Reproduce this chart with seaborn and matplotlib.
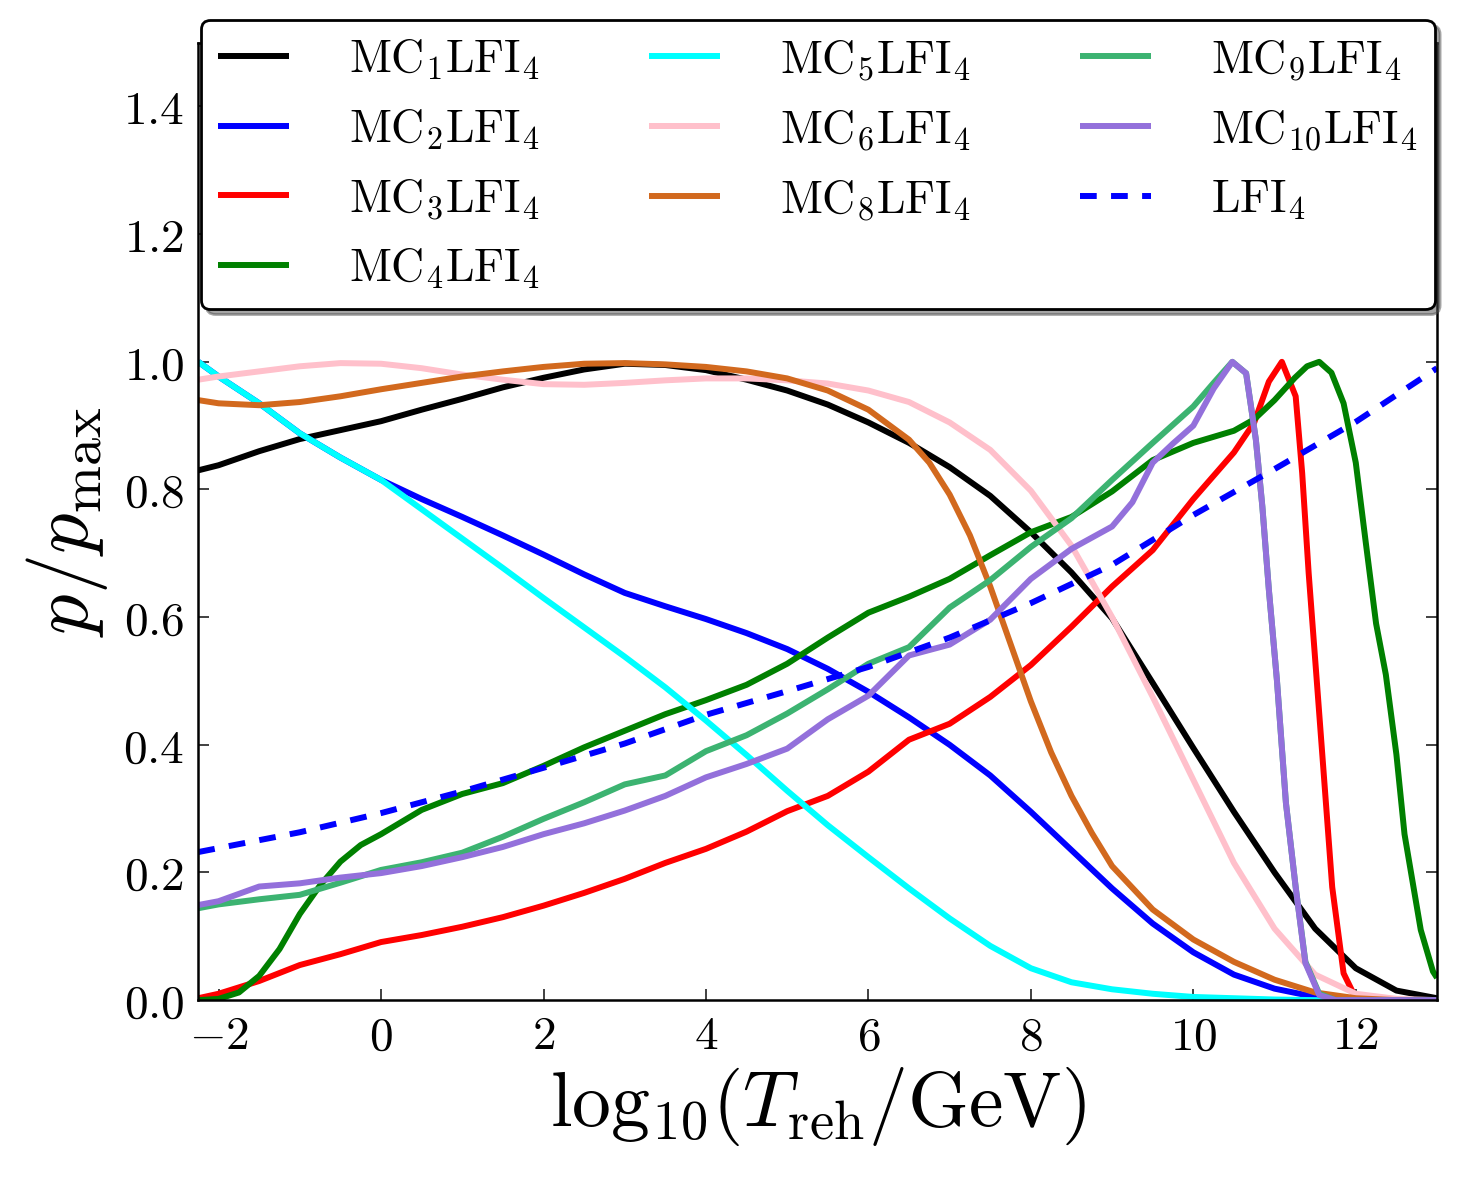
import matplotlib
matplotlib.use('Agg')
import matplotlib.pyplot as plt
from matplotlib.ticker import FuncFormatter
import seaborn as sns

# values
x_grid = [-2.25, -2, -1.5, -1, -0.5, 0, 0.5, 1, 1.5, 2, 2.5, 3, 3.5, 4, 4.5, 5,
          5.5, 6, 6.5, 7, 7.5, 8, 8.5, 9, 9.5, 10, 10.5, 11, 11.5, 12, 12.5, 13]

mc1 = [0.83, 0.838, 0.86, 0.879, 0.893, 0.907, 0.925, 0.942, 0.96, 0.975, 0.988, 0.997,
       0.995, 0.987, 0.972, 0.955, 0.933, 0.905, 0.873, 0.835, 0.79, 0.733, 0.67, 0.598,
       0.497, 0.395, 0.295, 0.2, 0.112, 0.05, 0.015, 0.003]

mc2 = [1.0, 0.977, 0.935, 0.888, 0.85, 0.815, 0.785, 0.757, 0.728, 0.698, 0.667, 0.638,
       0.617, 0.597, 0.575, 0.55, 0.519, 0.483, 0.443, 0.4, 0.352, 0.295, 0.235, 0.175,
       0.12, 0.075, 0.04, 0.018, 0.005, 0.001, 0.0, 0.0]

mc5 = [1.0, 0.977, 0.935, 0.888, 0.85, 0.815, 0.769, 0.723, 0.677, 0.63, 0.584, 0.538,
       0.49, 0.438, 0.384, 0.328, 0.274, 0.224, 0.175, 0.128, 0.085, 0.05, 0.028, 0.017,
       0.01, 0.005, 0.003, 0.001, 0.0, 0.0, 0.0, 0.0]

mc6 = [0.972, 0.977, 0.985, 0.993, 0.998, 0.997, 0.99, 0.98, 0.972, 0.965, 0.964, 0.967,
       0.971, 0.974, 0.974, 0.971, 0.966, 0.955, 0.937, 0.905, 0.862, 0.798, 0.712, 0.6,
       0.475, 0.345, 0.215, 0.112, 0.04, 0.01, 0.002, 0.0]

x_mc8 = [-2.25, -2, -1.5, -1, -0.5, 0, 0.5, 1, 1.5, 2, 2.5, 3, 3.5, 4, 4.5, 5, 5.5, 6,
         6.5, 6.75, 7, 7.25, 7.5, 7.75, 8, 8.25, 8.5, 8.75, 9, 9.5, 10, 10.5, 11, 11.5,
         12, 12.5, 13]
mc8 = [0.94, 0.935, 0.932, 0.937, 0.946, 0.957, 0.967, 0.977, 0.985, 0.992, 0.997, 0.998,
       0.996, 0.992, 0.985, 0.974, 0.955, 0.925, 0.878, 0.842, 0.792, 0.728, 0.648, 0.558,
       0.468, 0.388, 0.32, 0.262, 0.21, 0.142, 0.095, 0.06, 0.032, 0.012, 0.003, 0.0, 0.0]

x_mc4 = [-2.25, -2, -1.75, -1.5, -1.25, -1, -0.75, -0.5, -0.25, 0, 0.5, 1, 1.5, 2, 2.5,
         3, 3.5, 4, 4.5, 5, 5.5, 6, 6.5, 7, 7.5, 8, 8.5, 9, 9.5, 10, 10.5, 10.75, 11,
         11.25, 11.4, 11.55, 11.7, 11.85, 12.0, 12.12, 12.25, 12.37, 12.5, 12.6, 12.8,
         12.95, 13]
mc4 = [0.0, 0.002, 0.012, 0.038, 0.08, 0.135, 0.18, 0.217, 0.243, 0.26, 0.298, 0.323,
       0.34, 0.367, 0.396, 0.422, 0.448, 0.47, 0.494, 0.527, 0.568, 0.607, 0.632, 0.66,
       0.697, 0.733, 0.757, 0.797, 0.846, 0.873, 0.892, 0.91, 0.94, 0.975, 0.993, 1.0,
       0.983, 0.935, 0.842, 0.72, 0.59, 0.51, 0.385, 0.26, 0.11, 0.045, 0.035]

x_mc3 = [-2.25, -2, -1.5, -1, -0.5, 0, 0.5, 1, 1.5, 2, 2.5, 3, 3.5, 4, 4.5, 5, 5.5, 6,
         6.5, 7, 7.5, 8, 8.5, 9, 9.5, 10, 10.5, 10.75, 10.93, 11.09, 11.26, 11.34, 11.42,
         11.52, 11.71, 11.85, 12.0, 12.5, 13]
mc3 = [0.003, 0.01, 0.03, 0.055, 0.072, 0.091, 0.102, 0.115, 0.13, 0.148, 0.168, 0.19,
       0.215, 0.237, 0.264, 0.296, 0.32, 0.358, 0.408, 0.433, 0.475, 0.525, 0.585, 0.648,
       0.705, 0.785, 0.858, 0.905, 0.969, 1.0, 0.946, 0.826, 0.669, 0.5, 0.177, 0.042,
       0.003, 0.0, 0.0]

x_mc9 = [-2.25, -2, -1.5, -1, -0.5, 0, 0.5, 1, 1.5, 2, 2.5, 3, 3.5, 4, 4.5, 5, 5.5, 6,
         6.5, 7, 7.5, 8, 8.5, 9, 9.5, 10, 10.25, 10.48, 10.65, 10.77, 10.85, 10.93,
         11.03, 11.14, 11.26, 11.38, 11.55, 11.75, 12, 13]
mc9 = [0.144, 0.15, 0.158, 0.165, 0.184, 0.204, 0.216, 0.231, 0.256, 0.284, 0.31, 0.338,
       0.352, 0.39, 0.415, 0.449, 0.487, 0.527, 0.553, 0.615, 0.658, 0.71, 0.755, 0.815,
       0.873, 0.93, 0.967, 1.0, 0.982, 0.878, 0.773, 0.643, 0.5, 0.309, 0.177, 0.06,
       0.01, 0.0, 0.0, 0.0]

x_mc10 = [-2.25, -2, -1.5, -1, -0.5, 0, 0.5, 1, 1.5, 2, 2.5, 3, 3.5, 4, 4.5, 5, 5.5, 6,
          6.5, 7, 7.5, 8, 8.5, 9, 9.25, 9.5, 9.75, 10, 10.25, 10.48, 10.65, 10.77, 10.85,
          10.93, 11.03, 11.14, 11.26, 11.38, 11.55, 11.75, 12, 13]
mc10 = [0.149, 0.155, 0.178, 0.183, 0.192, 0.199, 0.21, 0.224, 0.24, 0.26, 0.277, 0.297,
        0.32, 0.349, 0.37, 0.394, 0.44, 0.477, 0.54, 0.557, 0.596, 0.66, 0.707, 0.742,
        0.78, 0.842, 0.872, 0.9, 0.958, 1.0, 0.982, 0.878, 0.773, 0.643, 0.5, 0.309,
        0.177, 0.058, 0.008, 0.0, 0.0, 0.0]

x_lfi = [-2.25, -1, 0, 1, 2, 3, 4, 5, 6, 7, 8, 9, 10, 11, 12, 13]
lfi4 = [0.232, 0.263, 0.293, 0.327, 0.364, 0.402, 0.447, 0.484, 0.522, 0.568, 0.622,
        0.682, 0.76, 0.832, 0.906, 0.99]

x_ticks = [-2, 0, 2, 4, 6, 8, 10, 12]
y_ticks = [0.0, 0.2, 0.4, 0.6, 0.8, 1.0, 1.2, 1.4]

series = [
    (x_grid, mc1, 'black', r'$\mathrm{MC_{1}LFI_{4}}$'),
    (x_grid, mc2, 'blue', r'$\mathrm{MC_{2}LFI_{4}}$'),
    (x_mc3, mc3, 'red', r'$\mathrm{MC_{3}LFI_{4}}$'),
    (x_mc4, mc4, 'green', r'$\mathrm{MC_{4}LFI_{4}}$'),
    (x_grid, mc5, 'cyan', r'$\mathrm{MC_{5}LFI_{4}}$'),
    (x_grid, mc6, 'pink', r'$\mathrm{MC_{6}LFI_{4}}$'),
    (x_mc8, mc8, 'chocolate', r'$\mathrm{MC_{8}LFI_{4}}$'),
    (x_mc9, mc9, 'mediumseagreen', r'$\mathrm{MC_{9}LFI_{4}}$'),
    (x_mc10, mc10, 'mediumpurple', r'$\mathrm{MC_{10}LFI_{4}}$'),
]

sns.set_style('ticks')
plt.rcParams['mathtext.fontset'] = 'cm'
plt.rcParams['font.family'] = ['DejaVu Serif']
for key in ['text.color', 'axes.labelcolor', 'xtick.color', 'ytick.color']:
    plt.rcParams[key] = 'black'

fig, ax = plt.subplots(figsize=(14.58, 11.85), dpi=100)
fig.subplots_adjust(left=0.136, right=0.9856, bottom=0.156, top=0.964)

for xs, ys, col, lab in series:
    sns.lineplot(x=xs, y=ys, color=col, label=lab, ax=ax)
sns.lineplot(x=x_lfi, y=lfi4, color='blue', label=r'$\mathrm{LFI_{4}}$', ax=ax)

# line widths / dash set directly on the drawn lines
for ln in ax.lines:
    ln.set_linewidth(4.3)
    ln.set_solid_capstyle('butt')
ax.lines[-1].set_linewidth(4.3)
ax.lines[-1].set_linestyle((0, (2.8, 2.4)))

ax.set_xlim(-2.25, 13)
ax.set_ylim(0, 1.5)
ax.set_xticks(x_ticks)
ax.set_yticks(y_ticks)
ax.xaxis.set_major_formatter(FuncFormatter(lambda v, p: r'$%d$' % v))
ax.yaxis.set_major_formatter(FuncFormatter(lambda v, p: r'$%.1f$' % v))
ax.tick_params(direction='in', top=True, right=True, length=8, width=1.3,
               color='#333333', labelsize=34, pad=10)
for sp in ax.spines.values():
    sp.set_linewidth(1.8)
    sp.set_color('black')

ax.set_xlabel(r'${\rm log}_{10}(T_{\rm reh}/{\rm GeV})$', fontsize=56, labelpad=4)
ax.set_ylabel(r'$p/p_{\rm max}$', fontsize=58, labelpad=10)

leg = ax.legend(loc='upper left', bbox_to_anchor=(0.002, 0.70, 0.996, 0.324),
                mode='expand', borderaxespad=0, ncol=3, fontsize=33,
                handlelength=1.55, handletextpad=1.3, labelspacing=0.53,
                borderpad=0.38, fancybox=True, framealpha=1,
                shadow={'ox': 4, 'oy': -4})
leg.get_frame().set_edgecolor('black')
leg.get_frame().set_linewidth(2)
leg.set_zorder(10)

fig.savefig('out.png', dpi=100)
